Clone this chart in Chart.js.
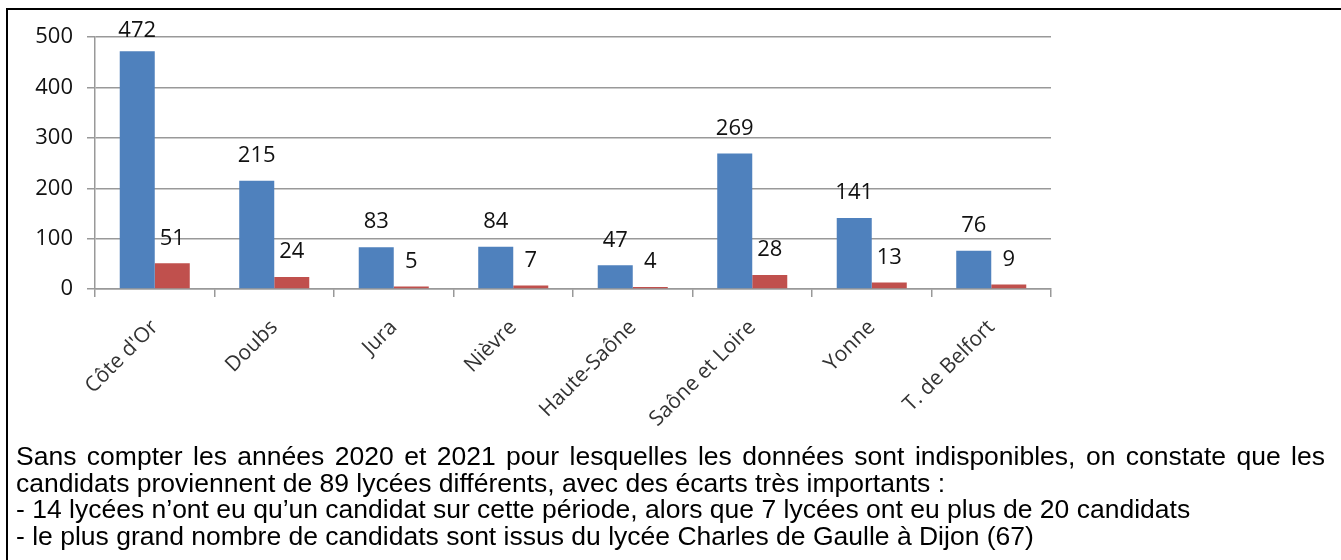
<!DOCTYPE html>
<html lang="fr">
<head>
  <meta charset="UTF-8">
  <title>Candidats par département</title>
  <script src="https://cdn.jsdelivr.net/npm/chart.js"></script>
  <style>
    body {
      margin: 0;
      background: #fff;
      width: 1341px;
      height: 560px;
      overflow: hidden;
      position: relative;
      font-family: "Liberation Sans", Arial, sans-serif;
    }
    #cadre {
      position: absolute;
      left: 6px;
      top: 8px;
      right: -10px;
      bottom: -10px;
      border-top: 2px solid #000;
      border-left: 2px solid #000;
    }
    #chart-container {
      position: absolute;
      left: 10px;
      top: 10px;
      width: 1331px;
      height: 435px;
    }
    #texte {
      position: absolute;
      left: 16px;
      top: 443px;
      width: 1309px;
      font-size: 26.5px;
      line-height: 26.5px;
      color: #000;
    }
    .just {
      text-align: justify;
      text-align-last: justify;
    }
  </style>
</head>
<body>
  <div id="cadre"></div>
  <div id="chart-container">
    <canvas id="deptChart"></canvas>
  </div>
  <div id="texte">
    <div class="just">Sans compter les années 2020 et 2021 pour lesquelles les données sont indisponibles, on constate que les</div>
    <div>candidats proviennent de 89 lycées différents, avec des écarts très importants :</div>
    <div>- 14 lycées n’ont eu qu’un candidat sur cette période, alors que 7 lycées ont eu plus de 20 candidats</div>
    <div>- le plus grand nombre de candidats sont issus du lycée Charles de Gaulle à Dijon (67)</div>
  </div>

  <script>
    const departements = ["Côte d'Or", "Doubs", "Jura", "Nièvre", "Haute-Saône", "Saône et Loire", "Yonne", "T. de Belfort"];
    const serieBleue = [472, 215, 83, 84, 47, 269, 141, 76];
    const serieRouge = [51, 24, 5, 7, 4, 28, 13, 9];
    const ticksY = [0, 100, 200, 300, 400, 500];

    // valeurs au-dessus des barres
    const etiquettes = {
      id: 'etiquettes',
      afterDatasetsDraw(chart) {
        const ctx = chart.ctx;
        ctx.save();
        ctx.font = '22px "Open Sans"';
        ctx.fillStyle = '#111';
        ctx.textAlign = 'center';
        ctx.textBaseline = 'middle';
        chart.data.datasets.forEach((ds, i) => {
          chart.getDatasetMeta(i).data.forEach((bar, j) => {
            const y = Math.max(bar.y - 25, chart.chartArea.top - 6);
            ctx.fillText(ds.data[j], bar.x, y);
          });
        });
        ctx.restore();
      }
    };

    const ctx = document.getElementById('deptChart').getContext('2d');
    const deptChart = new Chart(ctx, {
      type: 'bar',
      data: {
        labels: departements,
        datasets: [{
          label: 'Série 1',
          data: serieBleue,
          backgroundColor: '#4F81BD',
          barPercentage: 1,
          categoryPercentage: 0.586
        }, {
          label: 'Série 2',
          data: serieRouge,
          backgroundColor: '#C0504D',
          barPercentage: 1,
          categoryPercentage: 0.586
        }]
      },
      options: {
        responsive: true,
        maintainAspectRatio: false,
        animation: false,
        layout: {
          padding: { top: 27, right: 290, left: 0, bottom: 0 }
        },
        plugins: {
          legend: { display: false },
          tooltip: { enabled: false }
        },
        scales: {
          x: {
            grid: { drawOnChartArea: false, offset: true, tickLength: 8, color: '#999', lineWidth: 1.5 },
            border: { color: '#999', width: 1.5 },
            ticks: {
              autoSkip: false,
              maxRotation: 45,
              minRotation: 45,
              padding: 18,
              color: '#333',
              font: { family: '"Open Sans"', size: 21 }
            },
            afterFit: s => { s.height = 156; }
          },
          y: {
            min: 0,
            max: 500,
            afterBuildTicks: s => { s.ticks = ticksY.map(v => ({ value: v })); },
            grid: { color: '#999', lineWidth: 1.5, tickLength: 8 },
            border: { color: '#999', width: 1.5 },
            ticks: {
              padding: 14,
              color: '#111',
              font: { family: '"Open Sans"', size: 22 }
            },
            afterFit: s => { s.width = 85; }
          }
        }
      },
      plugins: [etiquettes]
    });
  </script>
</body>
</html>
